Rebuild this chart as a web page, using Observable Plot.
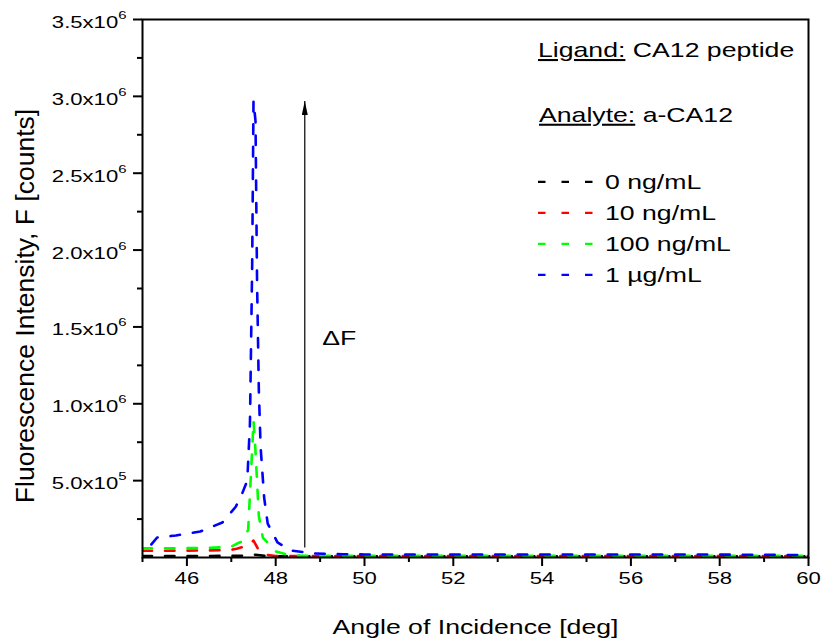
<!DOCTYPE html>
<html><head><meta charset="utf-8">
<script src="https://cdn.jsdelivr.net/npm/d3@7"></script>
<script src="https://cdn.jsdelivr.net/npm/@observablehq/plot@0.6"></script>
<style>
html,body{margin:0;padding:0;background:#fff;}
#chart{width:821px;height:641px;position:relative;}
</style></head>
<body><div id="chart"></div>
<script>
// ---------- data ----------
const seriesNames = ["0 ng/mL", "10 ng/mL", "100 ng/mL", "1 \u00b5g/mL"];
const seriesColors = ["#000000", "#ff0000", "#00ff00", "#0000ff"];

const angle0 = [45, 45.5, 46, 46.5, 47, 47.3, 47.45, 47.52, 47.6, 47.75, 48, 49, 50, 52, 54, 56, 58, 60];
const f0 =     [1.0e4, 1.0e4, 1.0e4, 1.0e4, 1.1e4, 1.2e4, 1.6e4, 1.8e4, 1.6e4, 1.1e4, 8e3, 8e3, 8e3, 8e3, 8e3, 8e3, 8e3, 8e3];

const angle10 = [45, 45.5, 46, 46.5, 47, 47.12, 47.35, 47.5, 47.61, 47.73, 48, 49, 50, 52, 54, 56, 58, 60];
const f10 =     [4.4e4, 4.4e4, 4.5e4, 4.6e4, 5.0e4, 5.7e4, 7.5e4, 1.1e5, 5.2e4, 2.0e4, 1.0e4, 1.0e4, 1.0e4, 1.0e4, 1.0e4, 1.0e4, 1.0e4, 1.0e4];

const angle100 = [45, 45.5, 46, 46.5, 47, 47.13, 47.25, 47.38, 47.43, 47.48, 47.5, 47.54, 47.59, 47.62, 47.71, 48, 48.33, 49, 50, 52, 54, 56, 58, 60];
const f100 =     [6.0e4, 6.0e4, 6.1e4, 6.2e4, 7.0e4, 9.1e4, 1.05e5, 1.8e5, 4.7e5, 7.6e5, 8.9e5, 7.2e5, 4.4e5, 2.7e5, 1.3e5, 3.9e4, 1.3e4, 1.1e4, 1.1e4, 1.1e4, 1.1e4, 1.1e4, 1.1e4, 1.1e4];

const angle1000 = [45.2, 45.33, 45.75, 46.3, 46.8, 47.1, 47.25, 47.36, 47.42, 47.47, 47.5, 47.545, 47.58, 47.62, 47.66, 47.74, 47.82, 48.04, 48.33, 48.85, 49.5, 50, 52, 54, 56, 58, 60];
const f1000 =     [8.5e4, 1.3e5, 1.43e5, 1.69e5, 2.28e5, 3.3e5, 4.2e5, 5.0e5, 8.7e5, 1.9e6, 2.97e6, 2.84e6, 1.8e6, 1.09e6, 7.2e5, 3.9e5, 2.2e5, 9.8e4, 4.6e4, 2.6e4, 2.1e4, 2.0e4, 2.0e4, 2.0e4, 2.0e4, 1.9e4, 1.6e4];

const xMajorTicks = [46, 48, 50, 52, 54, 56, 58, 60];
const xMinorTicks = [45, 47, 49, 51, 53, 55, 57, 59];
const yMajorTicks = [5e5, 1e6, 1.5e6, 2e6, 2.5e6, 3e6, 3.5e6];
const yMinorTicks = [2.5e5, 7.5e5, 1.25e6, 1.75e6, 2.25e6, 2.75e6, 3.25e6];

const xLabel = "Angle of Incidence [deg]";
const yLabel = "Fluorescence Intensity, F [counts]";
const ligandLabel = "Ligand:";
const ligandValue = " CA12 peptide";
const analyteLabel = "Analyte:";
const analyteValue = " a-CA12";

// Delta F annotation (data coordinates)
const arrowX = [48.655];
const arrowFrom = [6.5e4];
const arrowTo = [2.97e6];
const deltaText = ["\u0394F"];
const deltaX = [49.05];
const deltaY = [1.425e6];

// ---------- build ----------
const series = [
  {angles: angle0, values: f0},
  {angles: angle10, values: f10},
  {angles: angle100, values: f100},
  {angles: angle1000, values: f1000}
];
const lineMarks = series.map((s, i) =>
  Plot.line(s.angles.map((a, j) => ({angle: a, f: s.values[j]})), {
    x: "angle", y: "f", stroke: seriesColors[i], strokeWidth: 2.6,
    strokeDasharray: "9.5,13", clip: true
  })
);

const fmtY = d => {
  const e = Math.floor(Math.log10(d) + 1e-9);
  const m = d / Math.pow(10, e);
  return m.toFixed(1) + "x10^" + e;
};

const FONT = "'Liberation Sans', Arial, Helvetica, sans-serif";
const svg = Plot.plot({
  width: 821, height: 641,
  marginLeft: 142, marginRight: 13, marginTop: 19, marginBottom: 84,
  style: {fontFamily: FONT, fontSize: "17px", background: "white", color: "black", overflow: "visible"},
  x: {domain: [45, 60], label: null},
  y: {domain: [0, 3.5e6], label: null},
  marks: [
    ...lineMarks,
    Plot.link([0], {x1: arrowX, x2: arrowX, y1: arrowFrom, y2: arrowTo, stroke: "black", strokeWidth: 1.2, markerEnd: "arrow"}),
    Plot.text(deltaText, {x: deltaX, y: deltaY, textAnchor: "start", lineAnchor: "middle", fontSize: 20.5, fill: "black"}),
    Plot.frame({stroke: "black", strokeWidth: 2}),
    Plot.axisX({ticks: xMajorTicks, tickSize: 9, tickPadding: 5, tickFormat: d => String(d), strokeWidth: 2, label: null}),
    Plot.axisX({ticks: xMinorTicks, tickSize: 5, tickFormat: () => "", strokeWidth: 2, label: null}),
    Plot.axisY({ticks: yMajorTicks, tickSize: 9, tickPadding: 7, tickFormat: fmtY, strokeWidth: 2, label: null}),
    Plot.axisY({ticks: yMinorTicks, tickSize: 5, tickFormat: () => "", strokeWidth: 2, label: null}),
    Plot.text([xLabel], {frameAnchor: "bottom", lineAnchor: "bottom", dy: 76, fontSize: 20.5, fill: "black"}),
    Plot.text([yLabel], {frameAnchor: "left", rotate: -90, textAnchor: "middle", lineAnchor: "bottom", dx: -109, dy: 17.5, fontSize: 26.5, fill: "black"})
  ]
});
document.getElementById("chart").appendChild(svg);

// superscript exponents on y tick labels
svg.querySelectorAll("text").forEach(t => {
  const s = t.textContent;
  if (s.includes("^")) {
    const [base, exp] = s.split("^");
    t.textContent = "";
    t.setAttribute("dy", "3");
    const ns = "http://www.w3.org/2000/svg";
    const a = document.createElementNS(ns, "tspan"); a.textContent = base; t.appendChild(a);
    const b = document.createElementNS(ns, "tspan"); b.textContent = exp;
    b.setAttribute("dy", "-9"); b.setAttribute("font-size", "11.5px"); t.appendChild(b);
  }
});

// filled arrow head
svg.querySelectorAll("marker").forEach(m => {
  m.setAttribute("viewBox", "-14 -3.2 14.5 6.4");
  m.setAttribute("markerWidth", 14.5);
  m.setAttribute("markerHeight", 6.4);
  m.setAttribute("markerUnits", "userSpaceOnUse");
  m.innerHTML = "";
  const p = document.createElementNS("http://www.w3.org/2000/svg", "path");
  p.setAttribute("d", "M-14,-3L0,0L-14,3Z");
  p.setAttribute("fill", "black"); p.setAttribute("stroke", "none");
  m.appendChild(p);
});

// legend / annotation block
const g = d3.select(svg).append("g").attr("font-family", FONT).attr("font-size", 20.5)
  .attr("fill", "black").attr("text-anchor", "start");
const t1 = g.append("text").attr("x", 538).attr("y", 57.3);
t1.append("tspan").attr("text-decoration", "underline").text(ligandLabel);
t1.append("tspan").text(ligandValue);
const t2 = g.append("text").attr("x", 539).attr("y", 122);
t2.append("tspan").attr("text-decoration", "underline").text(analyteLabel);
t2.append("tspan").text(analyteValue);
seriesNames.forEach((name, i) => {
  const base = 189.5 + i * 31;
  g.append("line").attr("x1", 538).attr("x2", 593).attr("y1", base - 7.6).attr("y2", base - 7.6)
    .attr("stroke", seriesColors[i]).attr("stroke-width", 2.2).attr("stroke-dasharray", "7.5,16");
  g.append("text").attr("x", 605).attr("y", base).text(name);
});

// horizontal stretch of upright text (matches the reference's wide glyphs)
svg.querySelectorAll("text").forEach(el => {
  const tr = el.getAttribute("transform") || "";
  if (tr.includes("rotate")) return;
  if (!el.textContent.trim()) return;
  const bb = el.getBBox();
  if (!bb.width) return;
  const anchor = getComputedStyle(el).textAnchor;
  const ax = anchor === "middle" ? bb.x + bb.width / 2 : anchor === "end" ? bb.x + bb.width : bb.x;
  el.setAttribute("transform", `${tr} translate(${ax},0) scale(1.3,1) translate(${-ax},0)`);
});
</script>
</body></html>
